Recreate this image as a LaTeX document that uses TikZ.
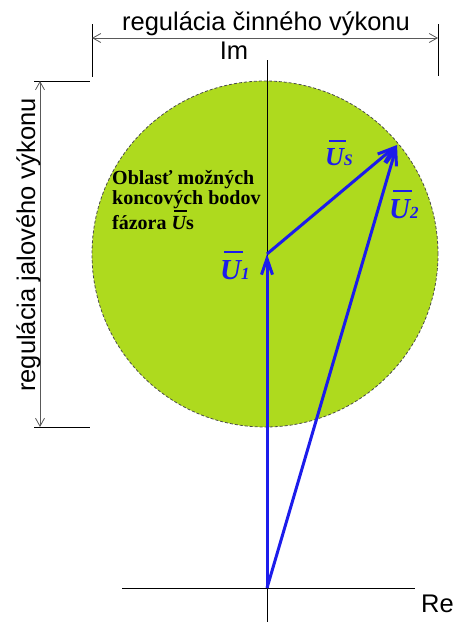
\documentclass[tikz,border=0pt]{standalone}
\usepackage{fontspec}
\setmainfont{Liberation Serif}
\newfontfamily\arial{Liberation Sans}
\usetikzlibrary{arrows.meta}
\definecolor{areagreen}{RGB}{174,218,30}
\definecolor{vecblue}{RGB}{28,28,235}
\newcommand\barU{\setbox0=\hbox{U}\leavevmode\rlap{\kern0.14em\vrule height 0.98em depth -0.88em width 0.9\wd0}\box0}
\begin{document}
\begin{tikzpicture}[x=1pt,y=-1pt,
  dim/.style={draw=black!65, line width=0.8pt, {Straight Barb[length=8pt,width=9pt]}-{Straight Barb[length=8pt,width=9pt]}},
  tickline/.style={draw=black, line width=0.8pt},
  axis/.style={draw=black, line width=1pt},
  vec/.style={draw=vecblue, line width=3pt, -{Straight Barb[length=16pt,width=11pt]}},
  lbl/.style={font=\arial\fontsize{25.5}{30}\selectfont, inner sep=0pt},
  vlab/.style={text=vecblue, font=\bfseries\itshape\fontsize{29}{32}\selectfont, inner sep=0pt, anchor=base west},
]
\useasboundingbox (0,0) rectangle (454,625);
% region of possible end points
\node[circle, draw=black!70, dash pattern=on 3pt off 2pt, line width=0.8pt, fill=areagreen,
      minimum size=346pt, inner sep=0pt] (area) at (265,254) {};
% axes
\coordinate (imtop) at (267,60);
\coordinate (imbot) at (267,622);
\coordinate (reL) at (122,588);
\coordinate (reR) at (415,588);
\draw[axis] (imtop) -- (imbot);
\draw[axis] (reL) -- (reR);
\node[lbl, anchor=base] (im) at (234,59) {Im};
\node[lbl, anchor=base west] (re) at (421,612) {Re};
% phasors
\coordinate (O) at (267,588);
\coordinate (A) at (267,254);
\coordinate (S) at (397,145);
\draw[vec] (O) -- (A);
\draw[vec] (A) -- (S);
\draw[vec] (O) -- (S);
\node[vlab] (u1) at (220,279) {\barU{\fontsize{17}{20}\selectfont 1}};
\node[vlab] (u2) at (389,218) {\barU{\fontsize{17}{20}\selectfont 2}};
\node[vlab, font=\bfseries\itshape\fontsize{26}{28}\selectfont] (us) at (325,165) {\barU{\fontsize{16}{18}\selectfont S}};
% region text
\node[anchor=north west, align=left, inner sep=0pt, font=\bfseries\fontsize{20}{20}\selectfont] (txt) at (112,170)
  {Oblasť možných\\koncových bodov\\fázora \textit{\barU}s};
% top dimension
\coordinate (tla) at (92,24);
\coordinate (tlb) at (92,77);
\coordinate (tra) at (438,24);
\coordinate (trb) at (438,76);
\coordinate (da) at (92,38);
\coordinate (db) at (438,38);
\draw[tickline] (tla) -- (tlb);
\draw[tickline] (tra) -- (trb);
\draw[dim] (da) -- (db);
\node[lbl, anchor=base] (toptxt) at (266,30) {regulácia činného výkonu};
% left dimension
\coordinate (lta) at (34,81);
\coordinate (ltb) at (90,81);
\coordinate (lba) at (34,427);
\coordinate (lbb) at (90,427);
\coordinate (ea) at (40,81);
\coordinate (eb) at (40,427);
\draw[tickline] (lta) -- (ltb);
\draw[tickline] (lba) -- (lbb);
\draw[dim] (ea) -- (eb);
\node[lbl, rotate=90, anchor=base] (lefttxt) at (35,245) {regulácia jalového výkonu};
\end{tikzpicture}
\end{document}
